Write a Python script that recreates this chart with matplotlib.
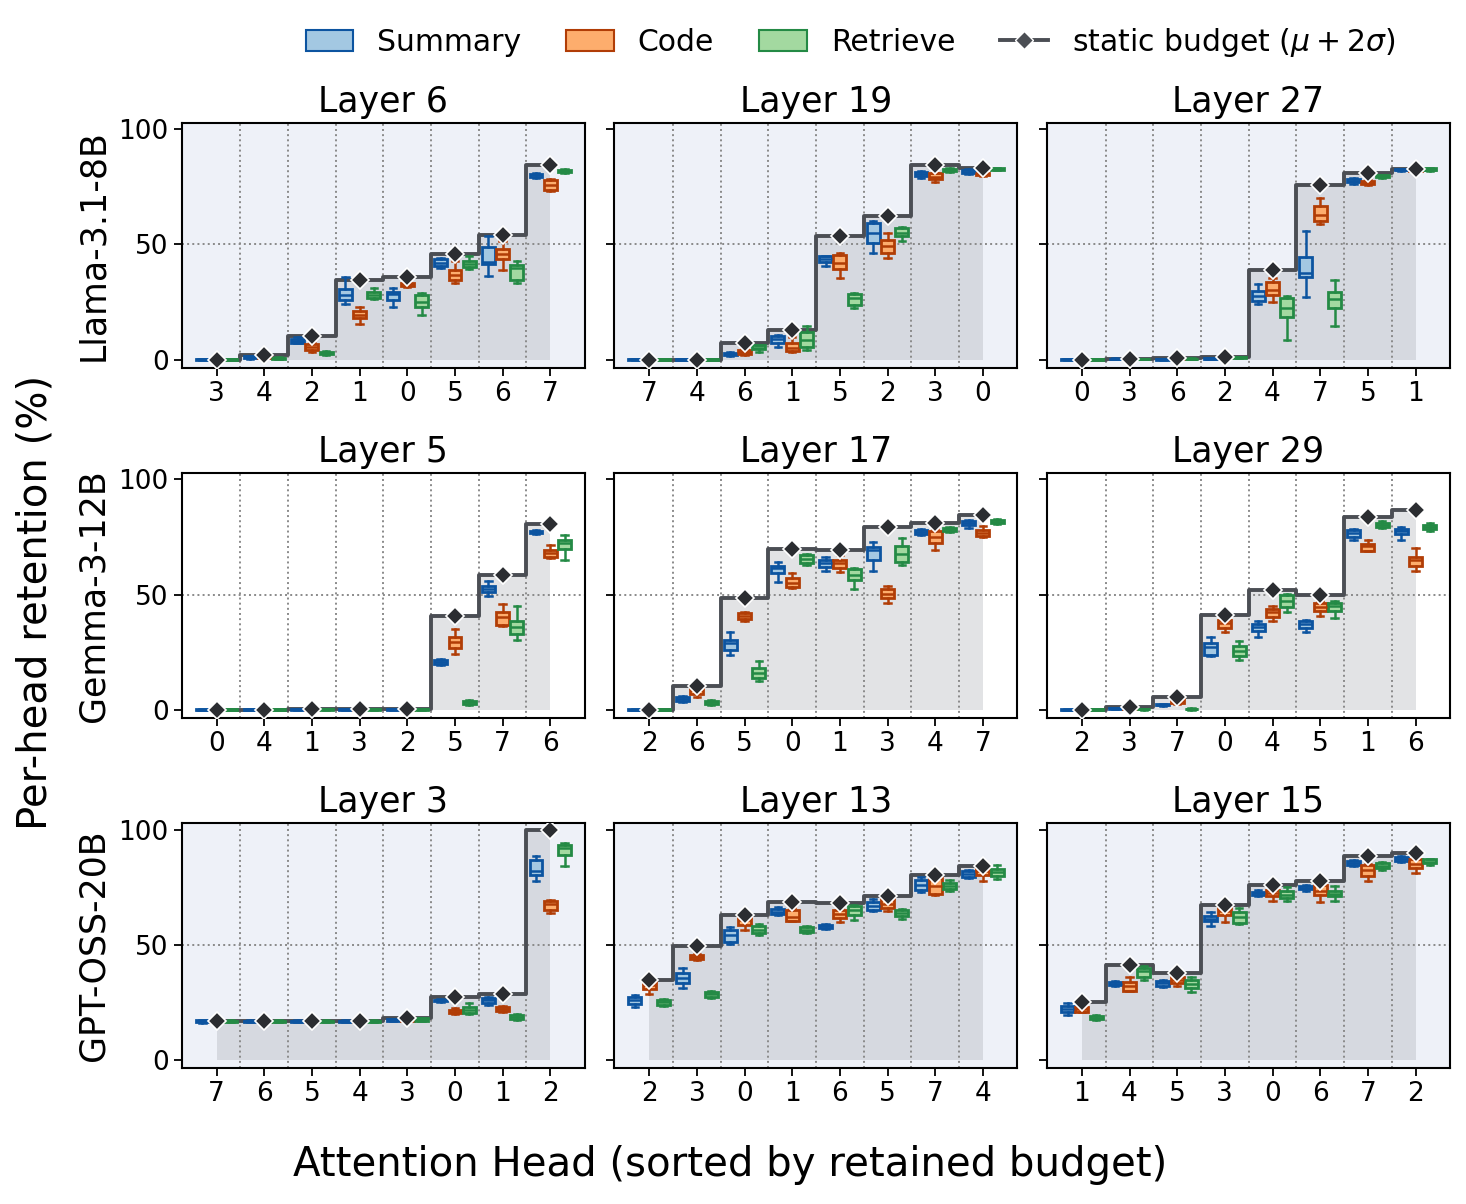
import matplotlib
matplotlib.use("Agg")
import matplotlib.pyplot as plt
from matplotlib.patches import Patch
from matplotlib.lines import Line2D

# rows: model names, each row holds three layers
MODELS = ["Llama-3.1-8B", "Gemma-3-12B", "GPT-OSS-20B"]
LAYERS = [[6, 19, 27], [5, 17, 29], [3, 13, 15]]

# box stats per head: (whislo, q1, med, q3, whishi)
# ---- Llama-3.1-8B, layer 6
l6_heads = [3, 4, 2, 1, 0, 5, 6, 7]
l6_budget = [0.0, 2.2, 10.2, 34.6, 35.9, 45.9, 54.2, 84.6]
l6_summary = [(0.0, 0.0, 0.1, 0.2, 0.3), (0.4, 0.7, 1.0, 1.4, 1.7), (7.0, 7.4, 8.2, 8.9, 9.6),
              (24.1, 25.7, 28.0, 30.5, 35.8), (22.8, 25.7, 28.5, 29.5, 31.2), (39.7, 40.5, 42.1, 43.5, 44.0),
              (36.3, 41.4, 42.2, 49.0, 53.5), (78.8, 79.2, 80.0, 80.6, 81.1)]
l6_code = [(0.0, 0.0, 0.1, 0.2, 0.3), (0.5, 0.8, 1.0, 1.3, 1.6), (3.5, 4.1, 5.5, 6.7, 7.3),
           (15.3, 18.0, 19.3, 21.1, 22.7), (31.4, 31.9, 32.7, 33.4, 33.9), (33.1, 34.6, 36.6, 38.8, 42.7),
           (38.7, 43.5, 45.8, 48.1, 51.3), (73.0, 73.8, 75.9, 77.8, 78.5)]
l6_retrieve = [(0.0, 0.0, 0.1, 0.2, 0.3), (0.2, 0.4, 0.6, 0.9, 1.1), (1.9, 2.3, 2.9, 3.5, 3.8),
               (26.5, 26.8, 28.2, 29.5, 31.0), (19.5, 23.0, 25.0, 28.2, 28.8), (39.5, 40.3, 41.6, 42.7, 45.0),
               (33.4, 34.6, 39.7, 41.0, 42.7), (81.1, 81.4, 82.0, 82.5, 82.8)]

# ---- Llama-3.1-8B, layer 19
l19_heads = [7, 4, 6, 1, 5, 2, 3, 0]
l19_budget = [0.0, 0.0, 7.3, 12.8, 53.8, 62.2, 84.3, 83.3]
l19_summary = [(0.0, 0.0, 0.1, 0.2, 0.3), (0.0, 0.0, 0.1, 0.2, 0.3), (1.7, 2.0, 2.5, 3.0, 3.3),
               (5.5, 7.3, 8.9, 10.2, 10.6), (40.7, 42.2, 43.5, 44.8, 45.0), (46.2, 50.6, 55.0, 59.3, 60.0),
               (78.9, 79.6, 80.7, 81.5, 81.8), (80.7, 81.0, 81.5, 82.2, 82.6)]
l19_code = [(0.0, 0.0, 0.1, 0.2, 0.3), (0.0, 0.0, 0.1, 0.2, 0.3), (2.2, 2.6, 3.3, 4.0, 4.4),
            (3.2, 3.6, 5.2, 7.0, 9.6), (35.3, 39.2, 41.9, 45.5, 46.2), (44.0, 46.2, 49.4, 52.0, 55.0),
            (77.2, 78.2, 79.4, 80.8, 81.1), (79.8, 80.2, 80.7, 81.2, 81.5)]
l19_retrieve = [(0.0, 0.0, 0.1, 0.2, 0.3), (0.0, 0.0, 0.1, 0.2, 0.3), (3.1, 4.5, 5.2, 6.2, 6.4),
                (4.1, 5.5, 8.4, 12.1, 14.7), (22.2, 23.7, 26.6, 28.5, 28.8), (51.3, 53.5, 54.9, 57.1, 57.4),
                (81.5, 81.8, 82.3, 82.8, 83.0), (82.1, 82.3, 82.7, 83.1, 83.3)]

# ---- Llama-3.1-8B, layer 27
l27_heads = [0, 3, 6, 2, 4, 7, 5, 1]
l27_budget = [0.0, 0.3, 0.6, 1.0, 39.0, 76.0, 80.8, 82.8]
l27_summary = [(0.0, 0.0, 0.1, 0.2, 0.3), (0.1, 0.2, 0.3, 0.4, 0.5), (0.0, 0.0, 0.1, 0.2, 0.3),
               (0.1, 0.2, 0.3, 0.5, 0.6), (24.1, 25.4, 27.6, 29.8, 32.7), (27.2, 35.8, 37.8, 44.5, 55.7),
               (76.3, 77.0, 77.6, 78.3, 78.8), (81.8, 82.1, 82.3, 82.6, 82.8)]
l27_code = [(0.0, 0.0, 0.1, 0.2, 0.3), (0.1, 0.2, 0.3, 0.4, 0.5), (0.3, 0.4, 0.5, 0.6, 0.7),
            (0.7, 0.8, 1.0, 1.2, 1.3), (25.0, 28.1, 30.2, 33.9, 35.3), (58.9, 60.3, 62.9, 66.9, 70.1),
            (75.7, 76.2, 76.7, 77.4, 77.8), (81.5, 81.8, 82.0, 82.3, 82.5)]
l27_retrieve = [(0.0, 0.0, 0.1, 0.2, 0.3), (0.1, 0.15, 0.2, 0.3, 0.4), (0.2, 0.25, 0.3, 0.4, 0.5),
                (0.7, 0.8, 1.0, 1.2, 1.3), (8.4, 18.6, 22.2, 26.6, 27.6), (14.7, 22.2, 26.2, 29.5, 34.6),
                (78.8, 79.2, 79.6, 80.0, 80.2), (81.8, 82.1, 82.5, 83.0, 83.3)]

# ---- Gemma-3-12B, layer 5
g5_heads = [0, 4, 1, 3, 2, 5, 7, 6]
g5_budget = [0.0, 0.0, 0.3, 0.3, 0.3, 40.7, 58.6, 80.7]
g5_summary = [(0.0, 0.0, 0.1, 0.2, 0.3), (0.0, 0.0, 0.1, 0.2, 0.3), (0.0, 0.1, 0.2, 0.3, 0.4),
              (0.0, 0.1, 0.2, 0.3, 0.4), (0.0, 0.1, 0.2, 0.3, 0.4), (19.6, 19.8, 20.7, 21.5, 21.9),
              (49.3, 51.0, 52.5, 53.6, 56.1), (76.4, 76.7, 77.2, 77.8, 78.1)]
g5_code = [(0.0, 0.0, 0.1, 0.2, 0.3), (0.0, 0.0, 0.1, 0.2, 0.3), (0.0, 0.1, 0.2, 0.3, 0.4),
           (0.0, 0.1, 0.2, 0.3, 0.4), (0.0, 0.1, 0.2, 0.3, 0.4), (24.2, 26.7, 29.6, 31.7, 35.1),
           (36.5, 37.0, 40.1, 42.6, 45.9), (66.0, 66.2, 68.1, 69.4, 71.6)]
g5_retrieve = [(0.0, 0.0, 0.1, 0.2, 0.3), (0.0, 0.0, 0.1, 0.2, 0.3), (0.0, 0.1, 0.2, 0.3, 0.4),
               (0.0, 0.1, 0.2, 0.3, 0.4), (0.0, 0.1, 0.2, 0.3, 0.4), (2.0, 2.5, 3.2, 3.9, 4.3),
               (30.4, 32.9, 35.8, 38.7, 45.2), (65.1, 69.6, 72.5, 73.9, 75.7)]

# ---- Gemma-3-12B, layer 17
g17_heads = [2, 6, 5, 0, 1, 3, 4, 7]
g17_budget = [0.0, 10.1, 48.6, 69.9, 69.3, 79.3, 81.2, 84.6]
g17_summary = [(0.0, 0.0, 0.1, 0.2, 0.3), (3.5, 3.8, 4.6, 5.6, 6.1), (23.9, 26.1, 28.8, 30.4, 33.6),
               (55.4, 59.3, 61.6, 62.6, 64.0), (60.4, 61.9, 63.6, 64.8, 66.2), (60.1, 65.2, 69.4, 70.6, 72.8),
               (75.7, 76.2, 77.1, 78.0, 78.6), (79.0, 80.0, 81.0, 81.9, 82.3)]
g17_code = [(0.0, 0.0, 0.1, 0.2, 0.3), (5.7, 7.0, 8.5, 9.3, 9.7), (38.7, 39.2, 40.6, 41.8, 42.3),
            (52.8, 53.2, 55.1, 57.2, 59.3), (59.7, 61.7, 63.5, 65.1, 67.0), (46.4, 48.4, 50.3, 52.5, 53.9),
            (69.4, 72.5, 74.9, 77.4, 78.6), (74.9, 75.4, 76.8, 78.1, 79.7)]
g17_retrieve = [(0.0, 0.0, 0.1, 0.2, 0.3), (2.0, 2.5, 3.2, 3.9, 4.3), (12.3, 13.6, 15.9, 18.1, 21.3),
                (62.9, 63.5, 65.5, 67.2, 67.5), (52.5, 56.5, 58.6, 61.2, 61.6), (62.9, 64.3, 67.7, 71.0, 74.6),
                (77.1, 77.5, 78.3, 79.0, 79.3), (80.7, 81.0, 81.7, 82.3, 82.6)]

# ---- Gemma-3-12B, layer 29
g29_heads = [2, 3, 7, 0, 4, 5, 1, 6]
g29_budget = [0.0, 1.0, 5.7, 41.2, 52.2, 49.9, 83.6, 86.5]
g29_summary = [(0.0, 0.0, 0.1, 0.2, 0.3), (0.3, 0.4, 0.6, 0.8, 0.9), (1.7, 1.9, 2.2, 2.5, 2.7),
               (23.5, 23.9, 27.4, 29.0, 31.7), (31.4, 34.3, 35.8, 37.2, 38.7), (33.6, 35.5, 37.1, 38.7, 39.1),
               (73.9, 75.2, 76.8, 78.1, 78.6), (73.5, 76.1, 77.4, 78.6, 79.3)]
g29_code = [(0.0, 0.0, 0.1, 0.2, 0.3), (0.3, 0.4, 0.6, 0.8, 0.9), (2.5, 2.8, 3.6, 4.6, 5.0),
            (33.9, 35.5, 37.5, 39.0, 39.4), (38.7, 40.1, 42.3, 43.8, 44.9), (40.9, 43.0, 44.5, 46.2, 47.4),
            (68.7, 69.1, 70.9, 72.0, 73.5), (60.4, 62.6, 65.1, 66.2, 70.1)]
g29_retrieve = [(0.0, 0.0, 0.1, 0.2, 0.3), (0.1, 0.2, 0.3, 0.4, 0.5), (0.1, 0.2, 0.3, 0.5, 0.6),
                (21.7, 23.5, 25.7, 27.5, 29.7), (42.6, 44.5, 47.4, 49.6, 50.3), (39.7, 43.0, 44.9, 46.4, 47.0),
                (78.8, 79.4, 80.3, 81.2, 81.9), (77.8, 78.4, 79.3, 80.2, 81.0)]

# ---- GPT-OSS-20B, layer 3
o3_heads = [7, 6, 5, 4, 3, 0, 1, 2]
o3_budget = [16.7, 16.7, 16.7, 16.7, 18.4, 27.5, 28.6, 99.6]
o3_summary = [(16.1, 16.3, 16.7, 17.1, 17.4), (16.3, 16.5, 16.7, 16.9, 17.1), (16.3, 16.5, 16.7, 16.9, 17.1),
              (16.3, 16.5, 16.7, 16.9, 17.1), (16.7, 16.9, 17.2, 17.6, 17.8), (25.1, 25.4, 25.8, 26.2, 26.5),
              (23.9, 24.5, 25.8, 27.0, 27.5), (77.5, 80.4, 82.2, 86.7, 88.4)]
o3_code = [(16.3, 16.5, 16.7, 16.9, 17.1), (16.3, 16.5, 16.7, 16.9, 17.1), (16.3, 16.5, 16.7, 16.9, 17.1),
           (16.3, 16.5, 16.7, 16.9, 17.1), (16.8, 17.0, 17.4, 17.8, 18.0), (20.0, 20.3, 21.0, 21.7, 22.7),
           (20.7, 21.2, 22.2, 23.0, 23.5), (63.8, 65.2, 67.7, 69.1, 69.4)]
o3_retrieve = [(16.3, 16.5, 16.7, 16.9, 17.1), (16.3, 16.5, 16.7, 16.9, 17.1), (16.3, 16.5, 16.7, 16.9, 17.1),
               (16.3, 16.5, 16.7, 16.9, 17.1), (16.7, 16.9, 17.4, 18.0, 18.4), (20.0, 20.3, 21.7, 22.9, 24.9),
               (17.4, 17.8, 18.7, 19.5, 20.0), (84.1, 88.8, 92.0, 93.5, 94.1)]

# ---- GPT-OSS-20B, layer 13
o13_heads = [2, 3, 0, 1, 6, 5, 7, 4]
o13_budget = [34.5, 49.3, 63.0, 68.6, 68.0, 71.0, 80.1, 84.1]
o13_summary = [(22.8, 24.2, 25.9, 27.5, 28.0), (31.2, 33.3, 35.5, 37.7, 40.1), (50.3, 51.2, 54.1, 56.5, 57.5),
               (62.8, 63.3, 64.1, 65.5, 66.2), (56.9, 57.2, 58.0, 58.7, 59.0), (64.8, 65.2, 67.0, 68.6, 69.9),
               (72.9, 73.9, 76.1, 78.3, 79.3), (79.0, 79.6, 80.7, 81.8, 82.3)]
o13_code = [(28.7, 30.9, 32.3, 33.6, 35.8), (43.2, 43.6, 44.5, 45.5, 45.9), (56.5, 58.7, 60.9, 62.0, 63.0),
            (60.1, 60.5, 61.9, 65.0, 65.9), (59.7, 61.6, 63.3, 65.2, 66.2), (64.5, 65.9, 67.7, 69.9, 70.3),
            (71.7, 72.0, 75.4, 79.0, 79.7), (77.5, 80.1, 81.9, 84.1, 84.3)]
o13_retrieve = [(23.2, 23.8, 25.2, 26.0, 26.5), (26.8, 27.3, 28.6, 29.6, 30.1), (54.1, 55.1, 56.5, 58.0, 59.1),
                (55.1, 55.6, 56.5, 57.5, 58.0), (60.9, 63.0, 65.2, 66.7, 67.1), (61.3, 62.3, 63.8, 65.2, 65.7),
                (73.2, 74.2, 75.5, 76.8, 78.0), (78.7, 79.7, 81.6, 83.0, 84.8)]

# ---- GPT-OSS-20B, layer 15
o15_heads = [1, 4, 5, 3, 0, 6, 7, 2]
o15_budget = [25.1, 41.3, 37.7, 67.1, 75.8, 77.8, 88.4, 89.9]
o15_summary = [(19.6, 21.0, 22.3, 23.6, 24.9), (31.9, 32.3, 33.0, 33.7, 34.1), (31.5, 31.9, 33.2, 34.3, 34.6),
               (58.0, 60.1, 61.3, 62.3, 64.1), (71.0, 71.5, 72.3, 73.0, 73.6), (73.5, 74.0, 74.8, 75.6, 76.1),
               (84.1, 84.6, 85.4, 86.2, 86.7), (85.9, 86.4, 87.2, 87.9, 88.4)]
o15_code = [(20.6, 21.0, 22.0, 23.0, 23.5), (29.7, 30.0, 31.9, 33.6, 35.8), (32.2, 33.3, 34.5, 35.8, 36.2),
            (59.7, 62.8, 64.5, 66.2, 66.7), (69.1, 71.0, 72.3, 73.6, 73.9), (68.4, 71.4, 73.5, 76.1, 76.4),
            (77.5, 79.7, 82.3, 84.8, 85.2), (81.0, 83.3, 85.2, 87.0, 87.4)]
o15_retrieve = [(17.4, 17.7, 18.4, 19.1, 19.6), (34.5, 36.2, 38.7, 40.1, 40.6), (29.3, 31.2, 33.0, 34.5, 36.1),
                (59.0, 59.4, 61.9, 64.1, 65.9), (69.1, 70.3, 71.7, 73.2, 75.0), (69.1, 71.0, 72.2, 73.5, 75.7),
                (82.6, 83.2, 84.3, 85.3, 85.8), (84.8, 85.3, 86.1, 87.0, 87.4)]

PANELS = [
    [(l6_heads, l6_budget, l6_summary, l6_code, l6_retrieve),
     (l19_heads, l19_budget, l19_summary, l19_code, l19_retrieve),
     (l27_heads, l27_budget, l27_summary, l27_code, l27_retrieve)],
    [(g5_heads, g5_budget, g5_summary, g5_code, g5_retrieve),
     (g17_heads, g17_budget, g17_summary, g17_code, g17_retrieve),
     (g29_heads, g29_budget, g29_summary, g29_code, g29_retrieve)],
    [(o3_heads, o3_budget, o3_summary, o3_code, o3_retrieve),
     (o13_heads, o13_budget, o13_summary, o13_code, o13_retrieve),
     (o15_heads, o15_budget, o15_summary, o15_code, o15_retrieve)],
]

TASKS = ["Summary", "Code", "Retrieve"]
FACE = ["#a3c8e2", "#fdad6d", "#a3d9a0"]
EDGE = ["#0c54a0", "#b13d06", "#248a45"]
OFFSETS = [-0.3, 0.0, 0.3]
ROW_BG = ["#eef1f8", "white", "#eef1f8"]
LINE_C = "#4b4e54"
DIAMOND_C = "#2b2d31"


def to_stats(rows):
    return [dict(whislo=r[0], q1=r[1], med=r[2], q3=r[3], whishi=r[4]) for r in rows]


fig, axes = plt.subplots(3, 3, figsize=(14.66, 12.04), dpi=100, sharey=True)
fig.subplots_adjust(left=0.124, right=0.989, top=0.898, bottom=0.113, wspace=0.074, hspace=0.43)

for r in range(3):
    for c in range(3):
        ax = axes[r, c]
        heads, budget, summ, code, retr = PANELS[r][c]
        x = list(range(len(heads)))
        ax.set_facecolor(ROW_BG[r])

        ax.fill_between(x, 0, budget, step="mid", color="#a0a4ab", alpha=0.3, lw=0, zorder=1)
        for b in range(len(heads) - 1):
            ax.axvline(b + 0.5, color="#8a8a8a", ls=":", lw=1.4, zorder=1.5)
        ax.axhline(50, color="#8a8a8a", ls=":", lw=1.4, zorder=1.5)
        ax.step(x, budget, where="mid", color=LINE_C, lw=2.8, zorder=2)

        for k, data in enumerate([summ, code, retr]):
            pos = [p + OFFSETS[k] for p in x]
            ax.bxp(to_stats(data), positions=pos, widths=0.27, patch_artist=True,
                   showfliers=False, manage_ticks=False,
                   boxprops=dict(facecolor=FACE[k], edgecolor=EDGE[k], lw=2.0),
                   whiskerprops=dict(color=EDGE[k], lw=1.8),
                   capprops=dict(color=EDGE[k], lw=1.8),
                   medianprops=dict(color=EDGE[k], lw=1.8),
                   zorder=3)

        ax.plot(x, budget, "D", ms=9, color=DIAMOND_C, mec="white", mew=1.2, zorder=5)

        ax.set_xlim(-0.73, 7.72)
        ax.set_ylim(-3.5, 102.8)
        ax.set_xticks(x)
        ax.set_xticklabels([str(h) for h in heads])
        ax.set_yticks([0, 50, 100])
        ax.tick_params(axis="both", labelsize=19, length=6, width=1.3)
        for s in ax.spines.values():
            s.set_linewidth(1.5)
        ax.set_title(f"Layer {LAYERS[r][c]}", fontsize=25, pad=8)
    axes[r, 0].set_ylabel(MODELS[r], fontsize=25, labelpad=6)

fig.text(0.024, 0.50, "Per-head retention (%)", rotation=90, va="center", ha="center", fontsize=29)
fig.text(0.498, 0.032, "Attention Head (sorted by retained budget)", va="center", ha="center", fontsize=29)

handles = [Patch(facecolor=FACE[k], edgecolor=EDGE[k], lw=1.5, label=TASKS[k]) for k in range(3)]
handles.append(Line2D([], [], color=LINE_C, lw=2.8, marker="D", ms=9, mfc=LINE_C, mec="white",
                      label=r"static budget ($\mu + 2\sigma$)"))
fig.legend(handles=handles, loc="center", bbox_to_anchor=(0.58, 0.965), ncol=4, frameon=False,
           fontsize=21.5, handlelength=1.6, columnspacing=1.5, handletextpad=0.8)

fig.savefig("out.png", dpi=100)
